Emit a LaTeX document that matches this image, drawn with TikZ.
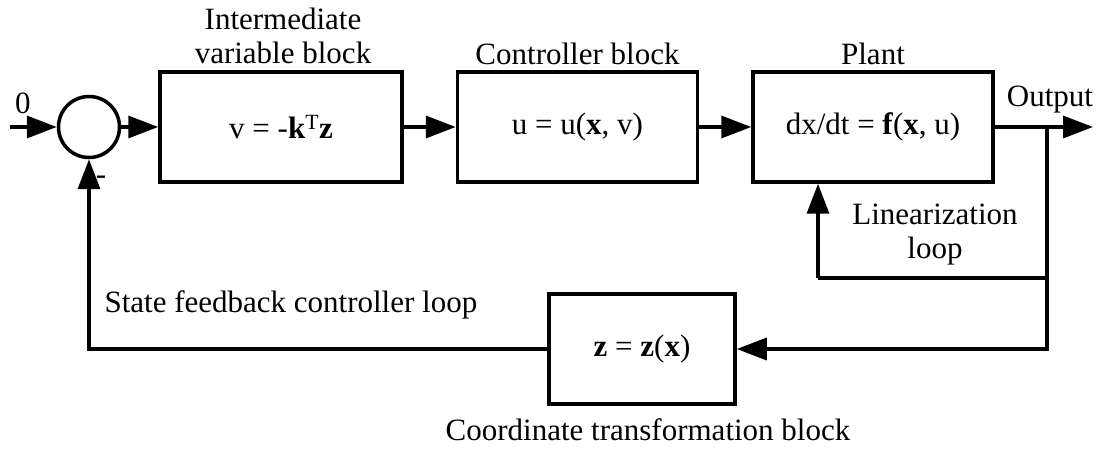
\documentclass[tikz,border=0pt]{standalone}
\usepackage{fontspec}
\setmainfont{Liberation Serif}
\usetikzlibrary{arrows.meta}

\begin{document}
\begin{tikzpicture}[
    x=1pt, y=-1pt,
    every node/.style={font=\fontsize{31}{34}\selectfont},
    block/.style={draw, line width=3.5pt, minimum width=240pt, minimum height=110pt, align=center},
    sum/.style={circle, draw, line width=3.5pt, minimum size=61pt, inner sep=0pt},
    arr/.style={line width=3.5pt, -{Triangle[length=30pt, width=22pt]}},
    line/.style={line width=3.5pt}
]
\useasboundingbox (0,0) rectangle (1101,449);

% Forward path
\coordinate (in) at (10,127);
\node[sum] (sum) at (89,127) {};
\node at (23,103) {0};

\node[block, minimum width=242pt] (b1) at (281,127) {v = -\textbf{k}\textsuperscript{T}\textbf{z}};
\node[align=center] at (283,36) {Intermediate\\variable block};

\node[block] (b2) at (577.5,127) {u = u(\textbf{x}, v)};
\node at (577.5,54) {Controller block};

\node[block] (b3) at (873,127) {dx/dt = \textbf{f}(\textbf{x}, u)};
\node at (873,54) {Plant};

\coordinate (br) at (1047,127);
\coordinate (out) at (1093,127);
\node at (1050,100) {Output};

\draw[arr] (in) -- (sum.west);
\draw[arr] (sum) -- (b1);
\draw[arr] (b1) -- (b2);
\draw[arr] (b2) -- (b3);
\draw[arr] (b3) -- (out);

% Linearization loop
\coordinate (lin) at (1047,278);
\coordinate (linup) at (818,278);
\draw[line] (lin) -- (linup);
\draw[arr] (linup) -- (linup |- b3.south);
\node[align=center] at (935,235) {Linearization\\loop};

% Feedback path
\node[block, minimum width=186pt] (b4) at (642,349) {\textbf{z} = \textbf{z}(\textbf{x})};
\node at (648,430) {Coordinate transformation block};
\draw[arr] (br) |- (b4.east);
\draw[arr] (b4.west) -| (sum.south);
\node at (101,180) {-};
\node[anchor=west] at (101,305) {State feedback controller loop};

\end{tikzpicture}
\end{document}
